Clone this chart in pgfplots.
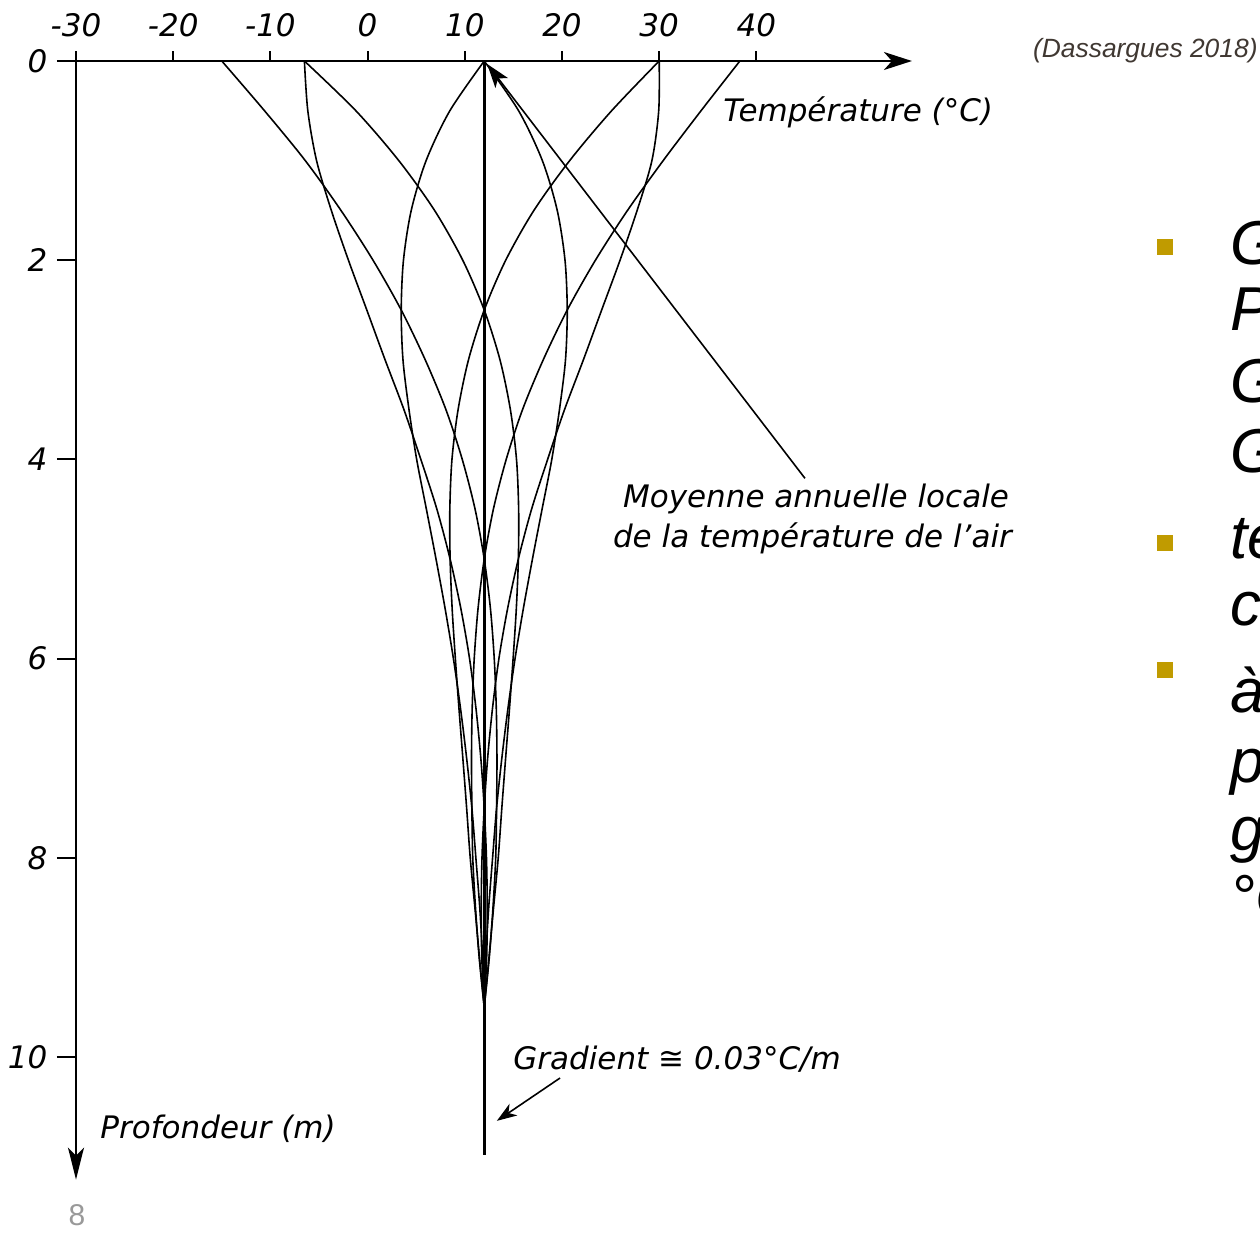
\documentclass[border=0pt]{standalone}
\usepackage{fontspec}
\setmainfont{DejaVu Sans}
\newfontfamily\arial{Liberation Sans}
\usepackage{pgfplots}
\pgfplotsset{compat=1.18}
\usetikzlibrary{arrows.meta}
\definecolor{bulletgold}{RGB}{192,155,0}
\definecolor{srcgray}{RGB}{64,56,50}
\newcommand{\figfont}{\fontsize{15.5}{18}\selectfont\itshape}
\begin{document}
\begin{tikzpicture}
\path[use as bounding box] (0pt,0pt) rectangle (630pt,-616.5pt);
\begin{axis}[
  at={(38pt,-30.5pt)}, anchor=north west,
  scale only axis, width=417.96pt, height=559.3pt,
  xmin=-30, xmax=56, ymin=-11.23, ymax=0,
  clip=false,
  axis x line=top, axis y line=left,
  x axis line style={-{Stealth[length=14pt,width=9pt,inset=4pt]}, line width=1pt},
  y axis line style={{Stealth[length=16pt,width=8pt,inset=4pt]}-, line width=1pt},
  tick align=outside,
  xtick={-30,-20,-10,0,10,20,30,40},
  xticklabels={-30,-20,-10,0,10,20,30,40},
  ytick={-10,-8,-6,-4,-2,0},
  yticklabels={10,8,6,4,2,0},
  xtick style={/pgfplots/major tick length=5pt, line width=1pt, black},
  ytick style={/pgfplots/major tick length=9.5pt, line width=1pt, black},
  ticklabel style={font=\figfont},
  xticklabel style={yshift=4pt},
  yticklabel style={xshift=-6.5pt},
  every axis plot/.append style={line width=0.8pt, black},
]
% phase 0
\addplot[smooth] coordinates {(12,0) (8.46,-0.5) (6.02,-1) (4.49,-1.5) (3.69,-2) (3.46,-2.5) (3.64,-3) (4.26,-3.5) (5.05,-4) (6.05,-4.5) (7.04,-5) (7.98,-5.5) (8.83,-6) (9.56,-6.5) (10.19,-7) (10.73,-7.5) (11.14,-8) (11.54,-8.5) (11.83,-9) (12,-9.5)};
% phase 180
\addplot[smooth] coordinates {(12,0) (15.54,-0.5) (17.98,-1) (19.51,-1.5) (20.31,-2) (20.54,-2.5) (20.36,-3) (19.74,-3.5) (18.95,-4) (17.95,-4.5) (16.96,-5) (16.02,-5.5) (15.17,-6) (14.44,-6.5) (13.81,-7) (13.27,-7.5) (12.86,-8) (12.46,-8.5) (12.17,-9) (12,-9.5)};
% phase 90
\addplot[smooth] coordinates {(38.3,0) (34.3,-0.5) (30.41,-1) (26.74,-1.5) (23.44,-2) (20.54,-2.5) (18.07,-3) (15.94,-3.5) (14.26,-4) (12.94,-4.5) (12,-5) (11.36,-5.5) (10.97,-6) (10.76,-6.5) (10.69,-7) (10.73,-7.5) (10.82,-8) (11.10,-8.5) (11.48,-9) (12,-9.5)};
% phase 270
\addplot[smooth] coordinates {(-15.0,0) (-10.6,-0.5) (-6.41,-1) (-2.74,-1.5) (0.56,-2) (3.46,-2.5) (5.93,-3) (8.06,-3.5) (9.74,-4) (11.06,-4.5) (12,-5) (12.64,-5.5) (13.03,-6) (13.24,-6.5) (13.31,-7) (13.27,-7.5) (13.18,-8) (12.90,-8.5) (12.52,-9) (12,-9.5)};
% phase 45
\addplot[smooth] coordinates {(30.0,0) (25.1,-0.5) (20.79,-1) (17.11,-1.5) (14.21,-2) (12,-2.5) (10.38,-3) (9.31,-3.5) (8.68,-4) (8.46,-4.5) (8.49,-5) (8.70,-5.5) (9.03,-6) (9.40,-6.5) (9.80,-7) (10.19,-7.5) (10.56,-8) (11.04,-8.5) (11.51,-9) (12,-9.5)};
% phase 225
\addplot[smooth] coordinates {(-6.5,0) (-1.2,-0.5) (3.21,-1) (6.89,-1.5) (9.79,-2) (12,-2.5) (13.62,-3) (14.69,-3.5) (15.32,-4) (15.54,-4.5) (15.51,-5) (15.30,-5.5) (14.97,-6) (14.60,-6.5) (14.20,-7) (13.81,-7.5) (13.44,-8) (12.96,-8.5) (12.49,-9) (12,-9.5)};
% phase 135
\addplot[smooth] coordinates {(30.0,0) (29.95,-0.5) (29.25,-1) (27.73,-1.5) (25.97,-2) (24.08,-2.5) (22.20,-3) (20.26,-3.5) (18.52,-4) (16.87,-4.5) (15.51,-5) (14.40,-5.5) (13.51,-6) (12.85,-6.5) (12.35,-7) (12,-7.5) (11.77,-8) (11.69,-8.5) (11.75,-9) (12,-9.5)};
% phase 315
\addplot[smooth] coordinates {(-6.5,0) (-6.15,-0.5) (-5.25,-1) (-3.73,-1.5) (-1.97,-2) (-0.08,-2.5) (1.80,-3) (3.74,-3.5) (5.48,-4) (7.13,-4.5) (8.49,-5) (9.60,-5.5) (10.49,-6) (11.15,-6.5) (11.65,-7) (12,-7.5) (12.23,-8) (12.31,-8.5) (12.25,-9) (12,-9.5)};
% mean line
\addplot[line width=1.6pt] coordinates {(12,0) (12,-10.98)};
\draw[-{Stealth[length=12pt,width=8pt,inset=3pt]}, line width=0.8pt] (axis cs:45.0,-4.19) -- (axis cs:12.3,-0.03);
\draw[-{Stealth[length=10pt,width=7pt,inset=3pt]}, line width=0.8pt] (axis cs:19.8,-10.21) -- (axis cs:13.3,-10.64);
\end{axis}
\node[anchor=base west, inner sep=0, font=\figfont] at (361.5pt,-60.5pt) {Température (°C)};
\node[anchor=base, inner sep=0, font=\figfont] at (408pt,-253.5pt) {Moyenne annuelle locale};
\node[anchor=base, inner sep=0, font=\figfont] at (406.25pt,-273.5pt) {de la température de l'air};
\node[anchor=base west, inner sep=0, font=\figfont] at (256.5pt,-534.5pt) {Gradient ≅ 0.03°C/m};
\node[anchor=base west, inner sep=0, font=\figfont] at (50pt,-569pt) {Profondeur (m)};
\node[anchor=base east, inner sep=0, text=srcgray, font=\arial\itshape\fontsize{13.2}{15}\selectfont] at (629pt,-28.5pt) {(Dassargues 2018)};
\node[anchor=center, inner sep=0, text=gray!80, font=\arial\fontsize{15}{18}\selectfont] at (38.5pt,-607.5pt) {8};
\fill[bulletgold] (578.5pt,-119.5pt) rectangle (586.5pt,-127.5pt);
\fill[bulletgold] (578.5pt,-267.5pt) rectangle (586.5pt,-275.5pt);
\fill[bulletgold] (578.5pt,-331pt) rectangle (586.5pt,-339pt);
\begin{scope}[every node/.style={anchor=base west, inner sep=0, font=\arial\itshape\fontsize{31}{35}\selectfont}]
\node at (615pt,-132pt) {G};
\node at (615pt,-165pt) {P};
\node at (615pt,-201pt) {G};
\node at (615pt,-236pt) {G};
\node at (615pt,-279pt) {te};
\node at (615pt,-312.5pt) {c};
\node at (615pt,-356pt) {à};
\node at (615pt,-391pt) {p};
\node at (615pt,-425pt) {g};
\node at (615pt,-459pt) {°C};
\end{scope}
\end{tikzpicture}
\end{document}
